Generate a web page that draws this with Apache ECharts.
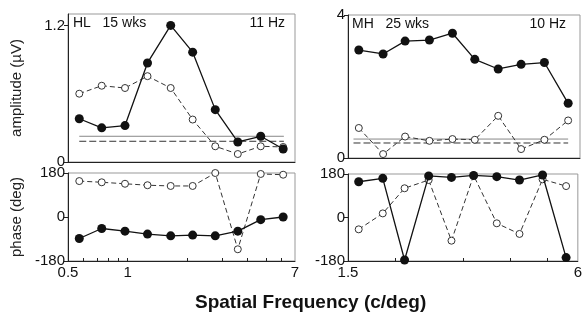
<!DOCTYPE html>
<html>
<head>
<meta charset="utf-8">
<script src="https://cdn.jsdelivr.net/npm/echarts@6/dist/echarts.min.js"></script>
<style>
  html, body { margin: 0; padding: 0; background: #fff; }
  #chart { width: 585px; height: 322px; }
</style>
</head>
<body>
<div id="chart"></div>
<script>
// spatial frequencies (c/deg)
const freqHL = [0.57, 0.74, 0.97, 1.26, 1.65, 2.13, 2.77, 3.6, 4.7, 6.1];
const freqMH = [1.6, 1.85, 2.11, 2.44, 2.8, 3.2, 3.68, 4.22, 4.85, 5.59];

// amplitude (uV)
const ampHLFilled = [0.38, 0.30, 0.32, 0.87, 1.20, 0.965, 0.46, 0.176, 0.226, 0.114];
const ampHLOpen = [0.60, 0.67, 0.65, 0.754, 0.65, 0.373, 0.138, 0.07, 0.138, 0.132];
const ampMHFilled = [3.02, 2.91, 3.27, 3.30, 3.49, 2.76, 2.49, 2.62, 2.67, 1.53];
const ampMHOpen = [0.84, 0.11, 0.60, 0.48, 0.53, 0.51, 1.18, 0.25, 0.51, 1.05];

// noise levels
const noiseHL = { solid: 0.226, dashed: 0.182, from: 0.57, to: 6.15 };
const noiseMH = { solid: 0.53, dashed: 0.42, from: 1.55, to: 5.59 };

// phase (deg)
const phHLFilled = [-88, -47, -58, -70, -77, -74, -77, -58, -11, 0];
const phHLOpen = [147, 142, 136, 130, 127, 127, 180, -132, 176, 173];
const phMHFilled = [148, 162, -176, 172, 166, 174, 169, 155, 176, -166];
const phMHOpen = [-49, 17, 121, 155, -96, 174, -24, -68, 158, 130];

// tick labels
const xLabelsHL = [0.5, 1, 7];
const xTicksHL = [0.6, 0.7, 0.8, 0.9, 1, 2, 3, 4, 5, 6];
const xLabelsMH = [1.5, 6];
const xTicksMH = [2, 3, 4, 5];

const font = '"Liberation Sans", Arial, Helvetica, sans-serif';
const zip = (xs, ys) => xs.map((x, i) => [x, ys[i]]);

const chart = echarts.init(document.getElementById('chart'));

const grids = [
  { left: 68, width: 227, top: 14, height: 148 },
  { left: 68, width: 227, top: 173, height: 88 },
  { left: 348, width: 232, top: 15, height: 143 },
  { left: 348, width: 232, top: 174, height: 87 }
].map(g => Object.assign({ show: true, borderColor: '#999', borderWidth: 1 }, g));

function xAxis(gi, min, max, labels, ticks) {
  return {
    type: 'log', logBase: 10, gridIndex: gi, min: min, max: max,
    axisLine: { onZero: false, lineStyle: { color: '#222', width: 1 } },
    splitLine: { show: false },
    axisTick: labels ? { customValues: ticks, inside: true, length: 3, lineStyle: { color: '#222' } } : { show: false },
    axisLabel: labels ? { customValues: labels, color: '#111', fontSize: 15, fontFamily: font, margin: 4 } : { show: false }
  };
}

function yAxis(gi, min, max, vals, name) {
  return {
    type: 'value', gridIndex: gi, min: min, max: max,
    name: name, nameLocation: 'middle', nameGap: 44, nameRotate: 90,
    nameTextStyle: { color: '#222', fontSize: 15, fontFamily: font },
    axisLine: { show: true, onZero: false, lineStyle: { color: '#222', width: 1 } },
    splitLine: { show: false },
    axisTick: { show: true, customValues: vals, length: 4, lineStyle: { color: '#222' } },
    axisLabel: { customValues: vals, color: '#111', fontSize: 15, fontFamily: font, margin: 3 }
  };
}

function filled(i, xs, ys) {
  return {
    type: 'line', xAxisIndex: i, yAxisIndex: i, data: zip(xs, ys), clip: false,
    symbol: 'circle', symbolSize: 9, itemStyle: { color: '#111' },
    lineStyle: { color: '#111', width: 1.3 }, z: 4
  };
}

function open(i, xs, ys) {
  return {
    type: 'line', xAxisIndex: i, yAxisIndex: i, data: zip(xs, ys), clip: false,
    symbol: 'circle', symbolSize: 7,
    itemStyle: { color: '#fff', borderColor: '#333', borderWidth: 1 },
    lineStyle: { color: '#333', width: 1, type: [5, 3] }, z: 3
  };
}

function noise(i, n, key, style) {
  return {
    type: 'line', xAxisIndex: i, yAxisIndex: i, symbol: 'none', silent: true,
    data: [[n.from, n[key]], [n.to, n[key]]],
    lineStyle: style, z: 2
  };
}

const option = {
  animation: false,
  grid: grids,
  xAxis: [
    xAxis(0, 0.5, 7, null, null),
    xAxis(1, 0.5, 7, xLabelsHL, xTicksHL),
    xAxis(2, 1.5, 6, null, null),
    xAxis(3, 1.5, 6, xLabelsMH, xTicksMH)
  ],
  yAxis: [
    yAxis(0, 0, 1.3, [0, 1.2], 'amplitude (\u00b5V)'),
    yAxis(1, -180, 180, [-180, 0, 180], 'phase (deg)'),
    yAxis(2, 0, 4, [0, 4], ''),
    yAxis(3, -180, 180, [-180, 0, 180], '')
  ],
  series: [
    noise(0, noiseHL, 'solid', { color: '#888', width: 1 }),
    noise(0, noiseHL, 'dashed', { color: '#333', width: 1, type: [7, 3] }),
    open(0, freqHL, ampHLOpen),
    filled(0, freqHL, ampHLFilled),
    open(1, freqHL, phHLOpen),
    filled(1, freqHL, phHLFilled),
    noise(2, noiseMH, 'solid', { color: '#888', width: 1 }),
    noise(2, noiseMH, 'dashed', { color: '#333', width: 1, type: [7, 3] }),
    open(2, freqMH, ampMHOpen),
    filled(2, freqMH, ampMHFilled),
    open(3, freqMH, phMHOpen),
    filled(3, freqMH, phMHFilled)
  ],
  graphic: [
    { type: 'text', left: 73, top: 16, style: { text: 'HL   15 wks', font: '14px ' + font, fill: '#111' } },
    { type: 'text', right: 300, top: 16, style: { text: '11 Hz', font: '14px ' + font, fill: '#111' } },
    { type: 'text', left: 352, top: 17, style: { text: 'MH   25 wks', font: '14px ' + font, fill: '#111' } },
    { type: 'text', right: 19, top: 17, style: { text: '10 Hz', font: '14px ' + font, fill: '#111' } },
    { type: 'text', left: 195, top: 293, style: { text: 'Spatial Frequency (c/deg)', font: 'bold 19px ' + font, fill: '#111' } }
  ]
};

chart.setOption(option);
</script>
</body>
</html>
